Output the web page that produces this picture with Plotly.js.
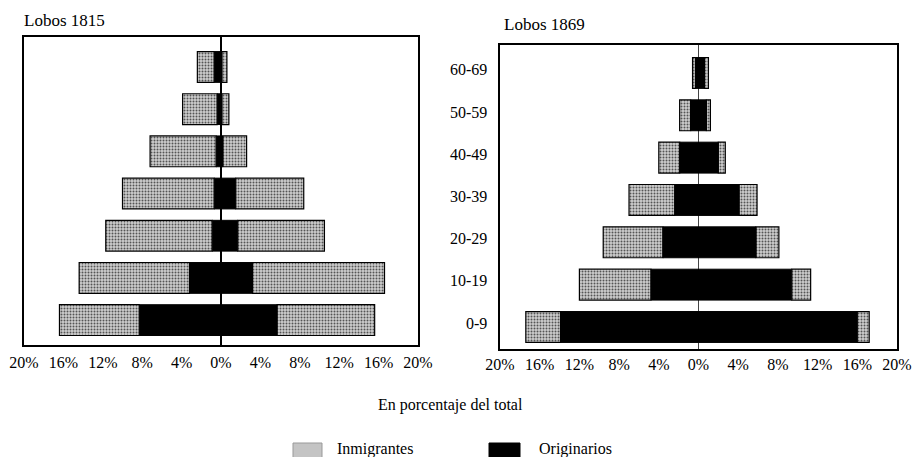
<!DOCTYPE html>
<html>
<head>
<meta charset="utf-8">
<script src="https://cdn.plot.ly/plotly-3.0.1.min.js"></script>
<style>html,body{margin:0;padding:0;background:#fff;}#chart{width:916px;height:457px;}</style>
</head>
<body>
<div id="chart"></div>
<script>
// Age groups (bottom to top)
var ageLabels = ['0-9', '10-19', '20-29', '30-39', '40-49', '50-59', '60-69'];
var panelTitles = ['Lobos 1815', 'Lobos 1869'];
var seriesNames = ['Inmigrantes', 'Originarios'];
var tickVals = [-20, -16, -12, -8, -4, 0, 4, 8, 12, 16, 20];
var tickText = ['20%', '16%', '12%', '8%', '4%', '0%', '4%', '8%', '12%', '16%', '20%'];
var axisTitle = 'En porcentaje del total';

// Lobos 1815 (percent of total), left and right halves of the pyramid
var orig1815L = [8.3, 3.2, 0.9, 0.7, 0.5, 0.4, 0.7];
var inm1815L  = [8.1, 11.2, 10.8, 9.3, 6.7, 3.5, 1.7];
var orig1815R = [5.7, 3.2, 1.7, 1.5, 0.2, 0.1, 0.1];
var inm1815R  = [9.9, 13.4, 8.8, 6.9, 2.4, 0.7, 0.5];

// Lobos 1869
var orig1869L = [13.9, 4.8, 3.6, 2.4, 1.9, 0.8, 0.3];
var inm1869L  = [3.5, 7.2, 6.0, 4.6, 2.1, 1.1, 0.3];
var orig1869R = [16.0, 9.4, 5.8, 4.1, 2.0, 0.8, 0.6];
var inm1869R  = [1.2, 1.9, 2.3, 1.8, 0.7, 0.4, 0.4];

var SERIF = "Liberation Serif, DejaVu Serif, serif";
var GREY = '#c4c4c4';

function neg(a) { return a.map(function (v) { return -v; }); }

function origTrace(vals, xa, ya) {
  return {
    type: 'bar', orientation: 'h', x: vals, y: ageLabels, xaxis: xa, yaxis: ya,
    name: seriesNames[1], showlegend: false, hoverinfo: 'skip',
    marker: { color: '#000', line: { color: '#000', width: 1 } }
  };
}
function inmTrace(vals, xa, ya) {
  return {
    type: 'bar', orientation: 'h', x: vals, y: ageLabels, xaxis: xa, yaxis: ya,
    name: seriesNames[0], showlegend: false, hoverinfo: 'skip',
    marker: {
      color: GREY, line: { color: '#000', width: 1.2 },
      pattern: { shape: '.', fgcolor: '#555', bgcolor: '#cfcfcf', size: 3, solidity: 0.35 }
    }
  };
}

var data = [
  origTrace(neg(orig1815L), 'x', 'y'),
  origTrace(orig1815R, 'x', 'y'),
  inmTrace(neg(inm1815L), 'x', 'y'),
  inmTrace(inm1815R, 'x', 'y'),
  origTrace(neg(orig1869L), 'x2', 'y2'),
  origTrace(orig1869R, 'x2', 'y2'),
  inmTrace(neg(inm1869L), 'x2', 'y2'),
  inmTrace(inm1869R, 'x2', 'y2')
];

function xAxis(domain, anchor, zw, zc, standoff) {
  return {
    domain: domain, anchor: anchor, range: [-20, 20], fixedrange: true,
    tickvals: tickVals, ticktext: tickText, ticks: '', showgrid: false,
    zeroline: true, zerolinecolor: zc, zerolinewidth: zw,
    showline: true, mirror: true, linecolor: '#000', linewidth: 2,
    tickfont: { family: SERIF, size: 16, color: '#000' }, ticklabelstandoff: standoff
  };
}
function yAxis(domain, anchor, range) {
  return {
    domain: domain, anchor: anchor, type: 'category', range: range, fixedrange: true,
    showticklabels: false, ticks: '', showgrid: false, zeroline: false,
    showline: true, mirror: true, linecolor: '#000', linewidth: 2
  };
}

var W = 916, H = 457;
function px(x) { return x / W; }
function py(y) { return 1 - y / H; }

var annotations = [];
ageLabels.forEach(function (lab) {
  annotations.push({
    text: lab, xref: 'paper', x: px(489), xanchor: 'right', yref: 'y', y: lab,
    yanchor: 'middle', yshift: -3, showarrow: false,
    font: { family: SERIF, size: 16, color: '#000' }
  });
});
annotations.push({ text: panelTitles[0], xref: 'paper', yref: 'paper', x: px(22), y: py(20),
  xanchor: 'left', yanchor: 'middle', showarrow: false, font: { family: SERIF, size: 17, color: '#000' } });
annotations.push({ text: panelTitles[1], xref: 'paper', yref: 'paper', x: px(502), y: py(25),
  xanchor: 'left', yanchor: 'middle', showarrow: false, font: { family: SERIF, size: 17, color: '#000' } });
annotations.push({ text: axisTitle, xref: 'paper', yref: 'paper', x: px(450), y: py(405),
  xanchor: 'center', yanchor: 'middle', showarrow: false, font: { family: SERIF, size: 16, color: '#000' } });
annotations.push({ text: seriesNames[0], xref: 'paper', yref: 'paper', x: px(335), y: py(449),
  xanchor: 'left', yanchor: 'middle', showarrow: false, font: { family: SERIF, size: 16, color: '#000' } });
annotations.push({ text: seriesNames[1], xref: 'paper', yref: 'paper', x: px(537), y: py(449),
  xanchor: 'left', yanchor: 'middle', showarrow: false, font: { family: SERIF, size: 16, color: '#000' } });

var shapes = [
  { type: 'rect', xref: 'paper', yref: 'paper', x0: px(293), x1: px(322), y0: py(443), y1: py(460),
    fillcolor: GREY, line: { color: '#999', width: 1 } },
  { type: 'rect', xref: 'paper', yref: 'paper', x0: px(489), x1: px(520), y0: py(443), y1: py(460),
    fillcolor: '#000', line: { color: '#000', width: 1 } }
];

var layout = {
  width: W, height: H,
  margin: { l: 0, r: 0, t: 0, b: 0 },
  paper_bgcolor: '#fff', plot_bgcolor: '#fff',
  barmode: 'relative', bargap: 0.27,
  showlegend: false,
  font: { family: SERIF, color: '#000' },
  xaxis: xAxis([px(24), px(418)], 'y', 2, '#000', 2),
  yaxis: yAxis([py(345), py(37)], 'x', [-0.59, 6.71]),
  xaxis2: xAxis([px(500), px(897)], 'y2', 1, '#444', 0),
  yaxis2: yAxis([py(349), py(45)], 'x2', [-0.52, 6.66]),
  annotations: annotations,
  shapes: shapes
};

Plotly.newPlot('chart', data, layout, { staticPlot: true, displayModeBar: false });
</script>
</body>
</html>
